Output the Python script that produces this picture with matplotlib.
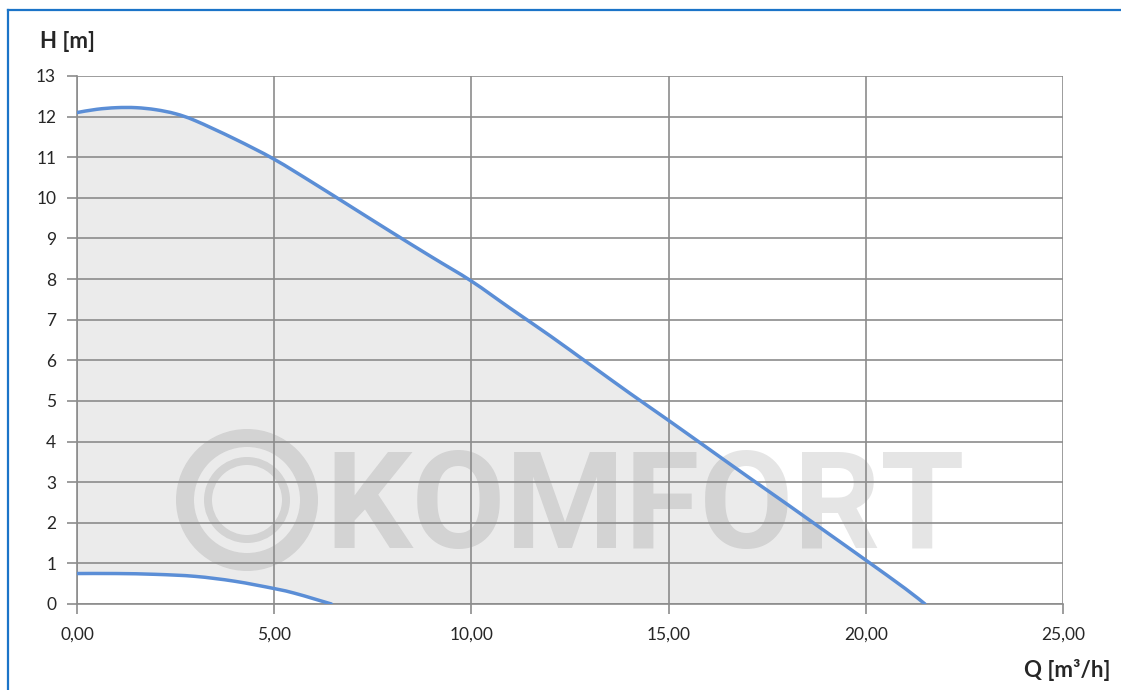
import matplotlib
matplotlib.use("Agg")
import matplotlib.pyplot as plt
from matplotlib.patches import Ellipse, PathPatch
from matplotlib.path import Path
from matplotlib.lines import Line2D
import numpy as np

# ---- data ----
q_upper = [0, 0.5, 1, 1.5, 2, 2.5, 3, 4, 5, 6, 7, 8, 9, 10, 11, 12, 13, 14, 15, 16, 17, 18, 19, 20, 21, 21.5]
h_upper = [12.1, 12.18, 12.22, 12.22, 12.17, 12.07, 11.9, 11.45, 10.95, 10.36, 9.75, 9.14, 8.54, 7.95,
           7.27, 6.6, 5.9, 5.2, 4.52, 3.83, 3.14, 2.46, 1.77, 1.08, 0.38, 0.0]
q_lower = [0, 1, 2, 3, 4, 5, 5.5, 6, 6.45]
h_lower = [0.75, 0.75, 0.73, 0.68, 0.56, 0.38, 0.27, 0.13, 0.0]

x_ticks = [0, 5, 10, 15, 20, 25]
y_ticks = list(range(0, 14))
x_label = "Q [m³/h]"
y_label = "H [m]"
watermark = "KOMFORT"

LINE = "#5B8ED6"
FILL = "#EBEBEB"
GRID = "#8C8C8C"
FRAME = "#1B74C8"
TXT = "#262626"

plt.rcParams['font.family'] = ['Lato', 'DejaVu Sans']


def smooth_path(xs, ys, t=1/6):
    """Catmull-Rom style Bezier path through the given points (rendering only)."""
    xs = np.asarray(xs, float)
    ys = np.asarray(ys, float)
    pts = np.column_stack([xs, ys])
    verts = [pts[0]]
    codes = [Path.MOVETO]
    n = len(pts)
    for i in range(n - 1):
        p0 = pts[i - 1] if i > 0 else pts[i]
        p1 = pts[i]
        p2 = pts[i + 1]
        p3 = pts[i + 2] if i + 2 < n else pts[i + 1]
        c1 = p1 + (p2 - p0) * t
        c2 = p2 - (p3 - p1) * t
        verts += [c1, c2, p2]
        codes += [Path.CURVE4] * 3
    return Path(verts, codes)


fig = plt.figure(figsize=(11.21, 6.90), dpi=100)
ax = fig.add_axes([77/1121, 86/690, (1063-77)/1121, (604-76)/690])

# fill between upper and lower curves
poly_x = np.concatenate([q_upper, q_lower[::-1]])
poly_y = np.concatenate([h_upper, h_lower[::-1]])
ax.fill(poly_x, poly_y, color=FILL, lw=0, zorder=0.2)

# watermark (below grid)
wm_color = (0, 0, 0, 0.10)
def fig_to_ax(px, py):
    return ((px-77)/(1063-77), (604-py)/(604-76))

cxf, cyf = 247/1121, 1-500/690
for r, lwpx in ((62, 18), (39, 8)):
    e = Ellipse((cxf, cyf), width=2*r/1121, height=2*r/690, transform=fig.transFigure,
                fill=False, lw=lwpx*0.72, ec=wm_color, zorder=0.3)
    e.set_clip_on(False)
    ax.add_artist(e)
tx, ty = fig_to_ax(325, 511)
ax.text(tx, ty, watermark, transform=ax.transAxes, fontsize=98, fontweight='bold',
        family=['Roboto', 'DejaVu Sans'], color=wm_color, ha='left', va='center', zorder=0.3)

# curves
for qs, hs in ((q_upper, h_upper), (q_lower, h_lower)):
    ax.add_patch(PathPatch(smooth_path(qs, hs), fill=False, ec=LINE, lw=2.5,
                           capstyle='round', joinstyle='round', zorder=3))

ax.set_xlim(0, 25)
ax.set_ylim(0, 13)
ax.set_xticks(x_ticks)
ax.set_yticks(y_ticks)
ax.set_xticklabels([f"{v:.2f}".replace('.', ',') for v in x_ticks])
ax.set_yticklabels([str(v) for v in y_ticks])
ax.set_axisbelow(True)
ax.grid(True, color=GRID, lw=1.2)
for s in ['top', 'right']:
    ax.spines[s].set_visible(False)
for s in ['left', 'bottom']:
    ax.spines[s].set_color(GRID)
    ax.spines[s].set_linewidth(1.2)
ax.tick_params(axis='both', colors=GRID, length=7, width=1.2, direction='out',
               labelcolor=TXT, labelsize=12.5)
ax.tick_params(axis='x', pad=9)
ax.tick_params(axis='y', pad=8)
ax.set_facecolor('none')

fig.text(40/1121, 1-42/690, y_label, fontsize=16, fontweight='bold', color=TXT,
         ha='left', va='center')
fig.text(1111/1121, 1-670/690, x_label, fontsize=16, fontweight='bold', color=TXT,
         ha='right', va='center')

# outer frame (top and left blue lines)
fig.add_artist(Line2D([8/1121, 1], [1-10/690, 1-10/690], transform=fig.transFigure, color=FRAME, lw=1.6))
fig.add_artist(Line2D([8/1121, 8/1121], [0, 1-10/690], transform=fig.transFigure, color=FRAME, lw=1.6))

fig.savefig("out.png", dpi=100, facecolor='white')
